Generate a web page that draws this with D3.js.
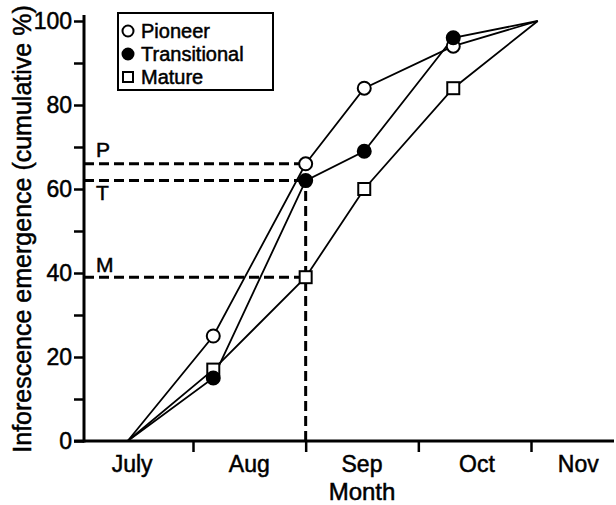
<!DOCTYPE html>
<html>
<head>
<meta charset="utf-8">
<script src="https://cdn.jsdelivr.net/npm/d3@7"></script>
<style>
  body { margin: 0; background: #fff; }
  svg { display: block; }
  text { font-family: "Liberation Sans", Arial, Helvetica, sans-serif; fill: #000; stroke: #000; stroke-width: 0.5px; }
</style>
</head>
<body>
<div id="container"></div>
<script>
// sampling dates, in months counted from 1 July
var sampleMonth = [0.42, 1.18, 2.0, 2.52, 3.31, 4.06];

// cumulative inflorescence emergence (%) per stand type
var pioneer      = [0, 25, 66, 84, 94, 100];
var transitional = [0, 15, 62, 69, 96, 100];
var mature       = [0, 17, 39, 60, 84, 100];

var seriesNames = ["Pioneer", "Transitional", "Mature"];
var monthLabels = ["July", "Aug", "Sep", "Oct", "Nov"];
var monthBounds = [1, 2, 3, 4];
var yMajor = [0, 20, 40, 60, 80, 100];
var yMinor = [10, 30, 50, 70, 90];

// reference lines read at the 1 Sep sample
var refLetters = ["P", "T", "M"];
var refValues = [66, 62, 39];

var width = 616, height = 505;

var svg = d3.select("#container").append("svg")
    .attr("width", width)
    .attr("height", height);

var x = d3.scaleLinear().domain([1, 4]).range([193, 531]);
var y = d3.scaleLinear().domain([0, 100]).range([441, 21]);
var axisX = 84;

// y axis
var yAxis = d3.axisLeft(y).tickValues(yMajor.concat(yMinor)).tickSize(10)
    .tickFormat(function(d) { return yMajor.indexOf(d) >= 0 ? d : ""; });
var gy = svg.append("g")
    .attr("transform", "translate(" + axisX + ",0)")
    .call(yAxis);
gy.select(".domain").remove();
gy.selectAll(".tick line").attr("stroke", "#000").attr("stroke-width", 2.5);
gy.selectAll(".tick text").attr("x", -12).style("font-size", "23px");
svg.append("line")
    .attr("x1", axisX).attr("x2", axisX)
    .attr("y1", y(0) + 1.5).attr("y2", 15)
    .attr("stroke", "#000").attr("stroke-width", 3);

// x axis
var xAxis = d3.axisBottom(x).tickValues(monthBounds).tickSize(11).tickFormat("");
var gx = svg.append("g")
    .attr("transform", "translate(0," + y(0) + ")")
    .call(xAxis);
gx.select(".domain").remove();
gx.selectAll(".tick line").attr("stroke", "#000").attr("stroke-width", 2.5);
svg.append("line")
    .attr("x1", 74).attr("x2", 614)
    .attr("y1", y(0)).attr("y2", y(0))
    .attr("stroke", "#000").attr("stroke-width", 3);

var labelPos = [0.46, 1.5, 2.5, 3.52, 4.42];
svg.selectAll(".month")
    .data(monthLabels)
  .enter().append("text")
    .attr("class", "month")
    .attr("x", function(d, i) { return x(labelPos[i]); })
    .attr("y", 472)
    .attr("text-anchor", "middle")
    .style("font-size", "23px")
    .text(function(d) { return d; });

svg.append("text")
    .attr("x", x(2.5))
    .attr("y", 500)
    .attr("text-anchor", "middle")
    .style("font-size", "24px")
    .text("Month");

svg.append("text")
    .attr("transform", "translate(31,229) rotate(-90)")
    .attr("text-anchor", "middle")
    .style("font-size", "25px")
    .text("Inforescence emergence (cumulative %)");

// dashed reference lines
var dash = "10,5";
refValues.forEach(function(v) {
  svg.append("line")
      .attr("x1", axisX).attr("x2", x(2))
      .attr("y1", y(v)).attr("y2", y(v))
      .attr("stroke", "#000").attr("stroke-width", 3)
      .attr("stroke-dasharray", dash);
});
svg.append("line")
    .attr("x1", x(2)).attr("x2", x(2))
    .attr("y1", y(0)).attr("y2", y(62))
    .attr("stroke", "#000").attr("stroke-width", 3)
    .attr("stroke-dasharray", dash);

var refOffset = [-7, 19, -5];
svg.selectAll(".ref")
    .data(refLetters)
  .enter().append("text")
    .attr("class", "ref")
    .attr("x", 96)
    .attr("y", function(d, i) { return y(refValues[i]) + refOffset[i]; })
    .style("font-size", "21px")
    .text(function(d) { return d; });

// series lines
var seriesData = [pioneer, transitional, mature];
var line = d3.line()
    .x(function(d, i) { return x(sampleMonth[i]); })
    .y(function(d) { return y(d); });

svg.selectAll(".series")
    .data(seriesData)
  .enter().append("path")
    .attr("class", "series")
    .attr("d", line)
    .attr("fill", "none")
    .attr("stroke", "#000")
    .attr("stroke-width", 1.8);

// markers (first point sits on the axis and has no marker)
function drawMarker(sel, kind, cx, cy, s) {
  if (kind == 2) {
    sel.append("rect")
        .attr("x", cx - s).attr("y", cy - s)
        .attr("width", 2 * s).attr("height", 2 * s)
        .attr("fill", "#fff").attr("stroke", "#000").attr("stroke-width", 2);
  } else {
    sel.append("circle")
        .attr("cx", cx).attr("cy", cy).attr("r", s + 0.5)
        .attr("fill", kind == 1 ? "#000" : "#fff")
        .attr("stroke", "#000").attr("stroke-width", 2);
  }
}

var markers = svg.append("g");
[2, 0, 1].forEach(function(k) {
  seriesData[k].forEach(function(v, i) {
    if (i == 0 || i == sampleMonth.length - 1) return;
    drawMarker(markers, k, x(sampleMonth[i]), y(v), 6);
  });
});

// legend
var legend = svg.append("g");
legend.append("rect")
    .attr("x", 118).attr("y", 13)
    .attr("width", 155).attr("height", 77)
    .attr("fill", "#fff").attr("stroke", "#000").attr("stroke-width", 2);

seriesNames.forEach(function(name, k) {
  var ly = 31 + k * 23;
  drawMarker(legend, k, 128, ly, 5);
  legend.append("text")
      .attr("x", 141)
      .attr("y", ly + 7)
      .style("font-size", "20px")
      .text(name);
});
</script>
</body>
</html>
